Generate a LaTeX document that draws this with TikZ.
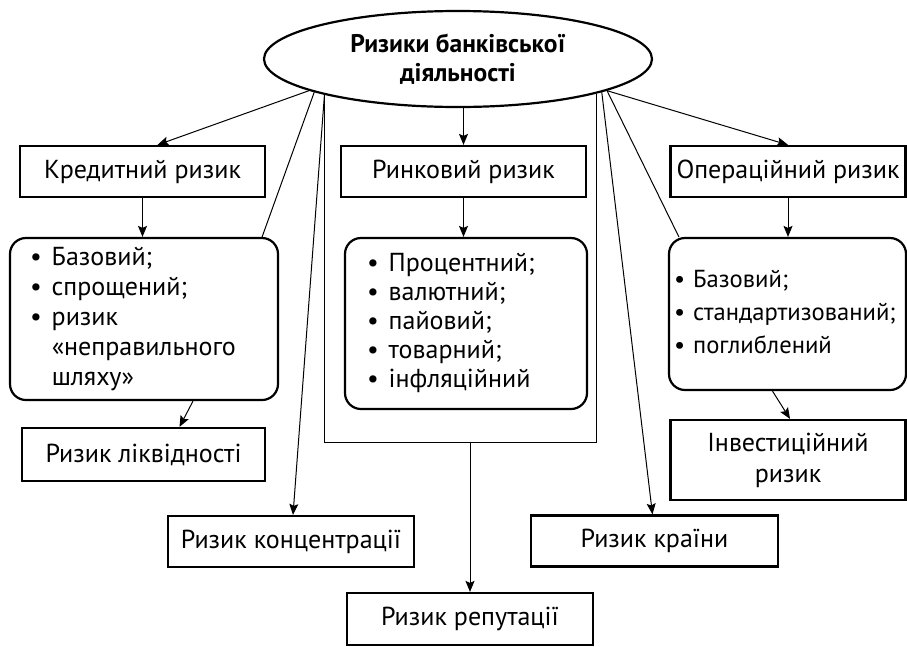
\documentclass[tikz,border=0pt]{standalone}
\usepackage{fontspec}
\setmainfont{PT Sans}
\usetikzlibrary{shapes.geometric,arrows.meta}
\tikzset{
	riskbox/.style={draw, line width=2.2pt, minimum height=51pt, inner sep=0pt, align=center, font=\fontsize{26}{31}\selectfont},
	listbox/.style={draw, line width=2.2pt, rounded corners=16pt, inner ysep=0pt, align=left},
	arr/.style={-{Stealth[length=11pt,width=9pt,inset=2pt]}, line width=1pt},
	thin/.style={line width=1pt}
}
\newcommand{\bulletlist}[2][10pt]{\begin{tabular}{@{}l@{\hspace{#1}}l@{}}#2\end{tabular}}

\begin{document}
\begin{tikzpicture}[x=1pt, y=-1pt]
				\useasboundingbox (0,0) rectangle (907,646);
				%root ellipse
				\node[ellipse, draw, line width=2.2pt, minimum width=388pt, minimum height=96pt, inner sep=0pt, align=center, font=\bfseries\fontsize{25.5}{29}\selectfont] (root) at (458,59) {Ризики банківської\\діяльності};
				%first row
				\node[riskbox, minimum width=245pt] (credit) at (142.5,171.5) {Кредитний ризик};
				\node[riskbox, minimum width=245pt] (market) at (463.5,171.5) {Ринковий ризик};
				\node[riskbox, minimum width=235pt] (oper) at (788,171.5) {Операційний ризик};
				%lists
				\node[listbox, text width=228pt, inner xsep=20pt, minimum height=162pt, font=\fontsize{26}{30}\selectfont] (creditlist) at (144,319) {\bulletlist{\textbullet & Базовий;\\ \textbullet & спрощений;\\ \textbullet & ризик\\ & «неправильного\\ & шляху»}};
				\node[listbox, text width=198pt, inner xsep=22pt, minimum height=171pt, font=\fontsize{26}{29}\selectfont] (marketlist) at (466,323.5) {\bulletlist{\textbullet & Процентний;\\ \textbullet & валютний;\\ \textbullet & пайовий;\\ \textbullet & товарний;\\ \textbullet & інфляційний}};
				\node[listbox, text width=227pt, inner xsep=5pt, minimum height=152pt, font=\fontsize{24.6}{33}\selectfont] (operlist) at (787.5,314) {\bulletlist[8pt]{\textbullet & Базовий;\\ \textbullet & стандартизований;\\ \textbullet & поглиблений}};
				%lower boxes
				\node[riskbox, minimum width=243pt, minimum height=53pt] (liquid) at (143.5,454.5) {Ризик ліквідності};
				\node[riskbox, minimum width=235pt, minimum height=80pt] (invest) at (788,460) {Інвестиційний\\ризик};
				\node[riskbox, minimum width=246pt] (conc) at (291,541.5) {Ризик концентрації};
				\node[riskbox, minimum width=247pt] (country) at (654.5,541) {Ризик країни};
				\node[riskbox, minimum width=246pt, minimum height=52pt] (reput) at (470,619) {Ризик репутації};
				%lines from the ellipse
				\coordinate (frameB) at (0,442);
				\draw[arr] (root.192.2) -- ([xshift=15pt]credit.north);
				\draw[thin] (root.193.7) -- ([xshift=-17pt]creditlist.north east);
				\draw[arr] (root.195.1) -- ([xshift=2pt]conc.north);
				\draw[thin] (root.195.95) -- (root.195.95 |- frameB) -- (root.346.45 |- frameB) -- (root.346.45);
				\draw[arr] (root.south -| market.north) -- (market.north);
				\draw[arr] (root.347.4) -- ([xshift=-2pt]country.north);
				\draw[thin] (root.348) -- ([xshift=11pt]operlist.north west);
				\draw[arr] (root.348.9) -- (oper.north);
				%arrows down the columns
				\draw[arr] (credit.south) -- (credit.south |- creditlist.north);
				\draw[arr] (market.south) -- (market.south |- marketlist.north);
				\draw[arr] (oper.south) -- (oper.south |- operlist.north);
				\draw[arr] ([xshift=49pt]creditlist.south) -- ([xshift=36pt]liquid.north);
				\draw[arr] ([xshift=-15pt]operlist.south) -- ([xshift=2pt]invest.north);
				\draw[arr] (reput.north |- frameB) -- (reput.north);
\end{tikzpicture}
\end{document}
